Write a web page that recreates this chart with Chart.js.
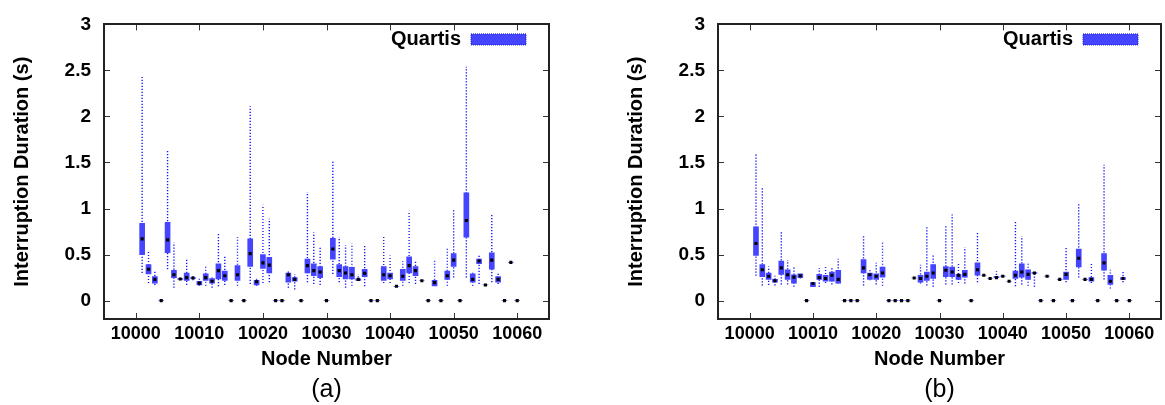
<!DOCTYPE html>
<html>
<head>
<meta charset="utf-8">
<script src="https://cdn.jsdelivr.net/npm/chart.js@4.4.0/dist/chart.umd.min.js"></script>
<style>
    html, body { margin: 0; padding: 0; background: #fff; }
    body { width: 1165px; height: 405px; position: relative; overflow: hidden; }
    canvas { position: absolute; top: 0; }
    #chartA { left: 0; }
    #chartB { left: 614px; }
</style>
</head>
<body>
<canvas id="chartA" width="553" height="405"></canvas>
<canvas id="chartB" width="551" height="405"></canvas>
<script>
const nodes = [
    10001, 10002, 10003, 10004, 10005, 10006, 10007, 10008, 10009, 10010,
    10011, 10012, 10013, 10014, 10015, 10016, 10017, 10018, 10019, 10020,
    10021, 10022, 10023, 10024, 10025, 10026, 10027, 10028, 10029, 10030,
    10031, 10032, 10033, 10034, 10035, 10036, 10037, 10038, 10039, 10040,
    10041, 10042, 10043, 10044, 10045, 10046, 10047, 10048, 10049, 10050,
    10051, 10052, 10053, 10054, 10055, 10056, 10057, 10058, 10059, 10060
]

// panel (a)
const lowA = [
    0.30, 0.19, 0.17, 0, 0.34, 0.14, 0.235, 0.17, 0.22, 0.16,
    0.16, 0.14, 0.155, 0.17, 0, 0.16, 0, 0.18, 0.16, 0.19,
    0.20, 0, 0, 0.14, 0.12, 0, 0.20, 0.18, 0.17, 0,
    0.29, 0.20, 0.14, 0.16, 0.22, 0.155, 0, 0, 0.19, 0.19,
    0.155, 0.16, 0.19, 0.18, 0.215, 0, 0.16, 0, 0.16, 0.25,
    0, 0.25, 0.16, 0.18, 0.17, 0.20, 0.18, 0, 0.415, 0
]
const q1A = [
    0.50, 0.29, 0.19, 0, 0.52, 0.25, 0.23, 0.22, 0.24, 0.17,
    0.22, 0.19, 0.235, 0.22, 0, 0.22, 0, 0.37, 0.17, 0.35,
    0.30, 0, 0, 0.20, 0.21, 0, 0.30, 0.27, 0.25, 0,
    0.45, 0.26, 0.235, 0.235, 0.22, 0.26, 0, 0, 0.22, 0.235,
    0.155, 0.22, 0.30, 0.27, 0.215, 0, 0.16, 0, 0.23, 0.37,
    0, 0.69, 0.20, 0.40, 0.17, 0.34, 0.20, 0, 0.415, 0
]
const medA = [
    0.67, 0.34, 0.23, 0, 0.66, 0.28, 0.235, 0.25, 0.246, 0.19,
    0.25, 0.21, 0.325, 0.27, 0, 0.28, 0, 0.51, 0.205, 0.41,
    0.385, 0, 0, 0.28, 0.23, 0, 0.38, 0.325, 0.31, 0,
    0.56, 0.325, 0.30, 0.28, 0.23, 0.295, 0, 0, 0.28, 0.27,
    0.155, 0.265, 0.38, 0.325, 0.215, 0, 0.195, 0, 0.27, 0.44,
    0, 0.87, 0.23, 0.43, 0.17, 0.44, 0.23, 0, 0.415, 0
]
const q3A = [
    0.84, 0.39, 0.26, 0, 0.85, 0.33, 0.24, 0.30, 0.25, 0.21,
    0.29, 0.24, 0.40, 0.32, 0, 0.38, 0, 0.67, 0.22, 0.50,
    0.47, 0, 0, 0.30, 0.25, 0, 0.45, 0.40, 0.37, 0,
    0.675, 0.39, 0.37, 0.36, 0.235, 0.34, 0, 0, 0.37, 0.30,
    0.155, 0.34, 0.475, 0.37, 0.215, 0, 0.22, 0, 0.32, 0.51,
    0, 1.17, 0.29, 0.45, 0.17, 0.52, 0.26, 0, 0.415, 0
]
const highA = [
    2.43, 0.53, 0.325, 0, 1.64, 0.63, 0.235, 0.45, 0.27, 0.24,
    0.38, 0.26, 0.74, 0.48, 0, 0.69, 0, 2.11, 0.26, 1.04,
    0.89, 0, 0, 0.335, 0.29, 0, 1.18, 0.74, 0.58, 0,
    1.52, 0.69, 0.60, 0.62, 0.29, 0.61, 0, 0, 0.69, 0.49,
    0.155, 0.43, 0.975, 0.43, 0.215, 0, 0.45, 0, 0.57, 0.99,
    0, 2.54, 0.31, 0.49, 0.17, 0.945, 0.31, 0, 0.415, 0
]

// panel (b)
const lowB = [
    0.27, 0.165, 0.17, 0.165, 0.175, 0.175, 0.15, 0.24, 0, 0.15,
    0.15, 0.19, 0.175, 0.185, 0, 0, 0, 0.165, 0.22, 0.175,
    0.16, 0, 0, 0, 0, 0.245, 0.185, 0.165, 0.15, 0,
    0.175, 0.175, 0.19, 0.185, 0, 0.20, 0.275, 0.24, 0.245, 0.265,
    0.21, 0.155, 0.175, 0.16, 0.15, 0, 0.265, 0, 0.23, 0.20,
    0, 0.25, 0.23, 0.19, 0, 0.23, 0.13, 0, 0.20, 0
]
const q1B = [
    0.49, 0.26, 0.23, 0.20, 0.285, 0.23, 0.19, 0.25, 0, 0.15,
    0.23, 0.21, 0.21, 0.19, 0, 0, 0, 0.30, 0.23, 0.23,
    0.255, 0, 0, 0, 0, 0.245, 0.20, 0.22, 0.24, 0,
    0.26, 0.26, 0.23, 0.255, 0, 0.275, 0.275, 0.24, 0.25, 0.265,
    0.21, 0.24, 0.255, 0.23, 0.295, 0, 0.265, 0, 0.23, 0.23,
    0, 0.365, 0.23, 0.21, 0, 0.33, 0.175, 0, 0.23, 0
]
const medB = [
    0.62, 0.335, 0.265, 0.215, 0.355, 0.28, 0.255, 0.27, 0, 0.185,
    0.25, 0.24, 0.275, 0.23, 0, 0, 0, 0.355, 0.28, 0.265,
    0.30, 0, 0, 0, 0, 0.245, 0.24, 0.265, 0.30, 0,
    0.33, 0.31, 0.275, 0.285, 0, 0.335, 0.275, 0.24, 0.25, 0.265,
    0.21, 0.275, 0.31, 0.285, 0.30, 0, 0.265, 0, 0.23, 0.285,
    0, 0.46, 0.23, 0.23, 0, 0.41, 0.21, 0, 0.24, 0
]
const q3B = [
    0.80, 0.39, 0.30, 0.23, 0.43, 0.335, 0.28, 0.29, 0, 0.195,
    0.285, 0.275, 0.31, 0.33, 0, 0, 0, 0.445, 0.30, 0.29,
    0.365, 0, 0, 0, 0, 0.245, 0.275, 0.31, 0.39, 0,
    0.37, 0.365, 0.285, 0.33, 0, 0.41, 0.275, 0.24, 0.26, 0.265,
    0.21, 0.32, 0.40, 0.335, 0.305, 0, 0.265, 0, 0.23, 0.31,
    0, 0.56, 0.23, 0.25, 0, 0.51, 0.275, 0, 0.25, 0
]
const highB = [
    1.59, 1.23, 0.37, 0.27, 0.75, 0.44, 0.36, 0.30, 0, 0.195,
    0.355, 0.365, 0.365, 0.455, 0, 0, 0, 0.71, 0.345, 0.41,
    0.64, 0, 0, 0, 0, 0.245, 0.39, 0.81, 0.51, 0,
    0.815, 0.935, 0.42, 0.58, 0, 0.74, 0.275, 0.24, 0.32, 0.265,
    0.21, 0.86, 0.70, 0.41, 0.305, 0, 0.265, 0, 0.23, 0.57,
    0, 1.06, 0.23, 0.40, 0, 1.475, 0.335, 0, 0.32, 0
]

const xTicks = [10000, 10010, 10020, 10030, 10040, 10050, 10060]
const yTicks = [0, 0.5, 1, 1.5, 2, 2.5, 3]

const FONT = "'Liberation Sans', Arial, Helvetica, sans-serif"
const BOX_COLOR = '#4545ff'
const WHISKER_COLOR = '#1414ff'

const framePlugin = {
    id: 'frame',
    afterLayout(chart) {
        // legend sits inside the plot, top right, text before swatch
        const legend = chart.legend
        const { right, top } = chart.chartArea
        legend.left = right - 18 - legend.width
        legend.right = legend.left + legend.width
        legend.top = top
        legend.bottom = top + legend.height
    },
    afterDraw(chart) {
        const { ctx, chartArea: { left, right, top, bottom }, scales: { x, y } } = chart
        ctx.save()
        ctx.strokeStyle = '#333'
        ctx.lineWidth = 1
        ctx.beginPath()
        for (const value of xTicks) {
            const px = Math.round(x.getPixelForValue(value)) + 0.5
            ctx.moveTo(px, bottom); ctx.lineTo(px, bottom - 6)
            ctx.moveTo(px, top); ctx.lineTo(px, top + 6)
        }
        for (const value of yTicks) {
            const py = Math.round(y.getPixelForValue(value)) + 0.5
            ctx.moveTo(left, py); ctx.lineTo(left + 6, py)
            ctx.moveTo(right, py); ctx.lineTo(right - 6, py)
        }
        ctx.stroke()
        ctx.strokeStyle = '#222'
        ctx.lineWidth = 2
        ctx.strokeRect(Math.round(left), Math.round(top), Math.round(right - left), Math.round(bottom - top))
        ctx.restore()
    }
}

function buildChart(canvas, caption, low, q1, med, q3, high) {
    const whiskers = []
    nodes.forEach((node, idx) => {
        whiskers.push({ x: node, y: low[idx] }, { x: node, y: high[idx] }, { x: node, y: null })
    })
    const boxes = nodes.map((node, idx) => ({ x: node, y: [q1[idx], q3[idx]] }))
    const medians = nodes.map((node, idx) => ({ x: node, y: med[idx] }))

    return new Chart(canvas, {
        type: 'bar',
        data: {
            datasets: [
                {
                    type: 'line',
                    label: 'whiskers',
                    data: whiskers,
                    borderColor: WHISKER_COLOR,
                    borderWidth: 1.4,
                    borderDash: [1.2, 1.8],
                    pointRadius: 0,
                    spanGaps: false,
                    order: 2
                },
                {
                    label: 'Quartis',
                    data: boxes,
                    backgroundColor: BOX_COLOR,
                    borderWidth: 0,
                    barThickness: 5,
                    grouped: false,
                    order: 1
                },
                {
                    type: 'line',
                    label: 'median',
                    data: medians,
                    showLine: false,
                    pointStyle: 'rect',
                    pointRadius: 2.2,
                    pointBorderWidth: 0,
                    pointBackgroundColor: '#000',
                    order: 0
                }
            ]
        },
        options: {
            responsive: false,
            animation: false,
            events: [],
            layout: { padding: { top: 23, right: canvas.width - 550, bottom: 0, left: 0 } },
            scales: {
                x: {
                    type: 'linear',
                    min: 9995,
                    max: 10065,
                    offset: false,
                    afterBuildTicks: scale => { scale.ticks = xTicks.map(value => ({ value })) },
                    afterFit: scale => { scale.height = 56 },
                    grid: { display: false, drawTicks: false },
                    border: { display: false },
                    ticks: {
                        padding: 4,
                        color: '#000',
                        maxRotation: 0,
                        font: { family: FONT, size: 18, weight: 'bold' },
                        callback: value => String(value)
                    },
                    title: {
                        display: true,
                        text: 'Node Number',
                        color: '#000',
                        padding: { top: 0, bottom: 4 },
                        font: { family: FONT, size: 20, weight: 'bold' }
                    }
                },
                y: {
                    min: -0.2,
                    max: 3,
                    afterBuildTicks: scale => { scale.ticks = yTicks.map(value => ({ value })) },
                    afterFit: scale => { scale.width = 104 },
                    grid: { display: false, drawTicks: false },
                    border: { display: false },
                    ticks: {
                        padding: 13,
                        color: '#000',
                        font: { family: FONT, size: 19, weight: 'bold' },
                        callback: value => String(value)
                    },
                    title: {
                        display: true,
                        text: 'Interruption Duration (s)',
                        color: '#000',
                        padding: { top: 10, bottom: 0 },
                        font: { family: FONT, size: 20, weight: 'bold' }
                    }
                }
            },
            plugins: {
                tooltip: { enabled: false },
                title: {
                    display: true,
                    position: 'bottom',
                    fullSize: false,
                    text: caption,
                    color: '#000',
                    padding: 0,
                    font: { family: FONT, size: 25, weight: 'normal' }
                },
                legend: {
                    position: 'chartArea',
                    align: 'start',
                    rtl: true,
                    labels: {
                        padding: 5,
                        boxWidth: 55,
                        boxHeight: 11,
                        color: '#000',
                        font: { family: FONT, size: 20, weight: 'bold' },
                        generateLabels: chart => Chart.defaults.plugins.legend.labels.generateLabels(chart)
                            .filter(item => item.text === 'Quartis')
                            .map(item => ({ ...item, strokeStyle: '#1a1acc', lineWidth: 1, lineDash: [1, 1] }))
                    }
                }
            }
        },
        plugins: [framePlugin]
    })
}

buildChart(document.getElementById('chartA'), '(a)', lowA, q1A, medA, q3A, highA)
buildChart(document.getElementById('chartB'), '(b)', lowB, q1B, medB, q3B, highB)
</script>
</body>
</html>
